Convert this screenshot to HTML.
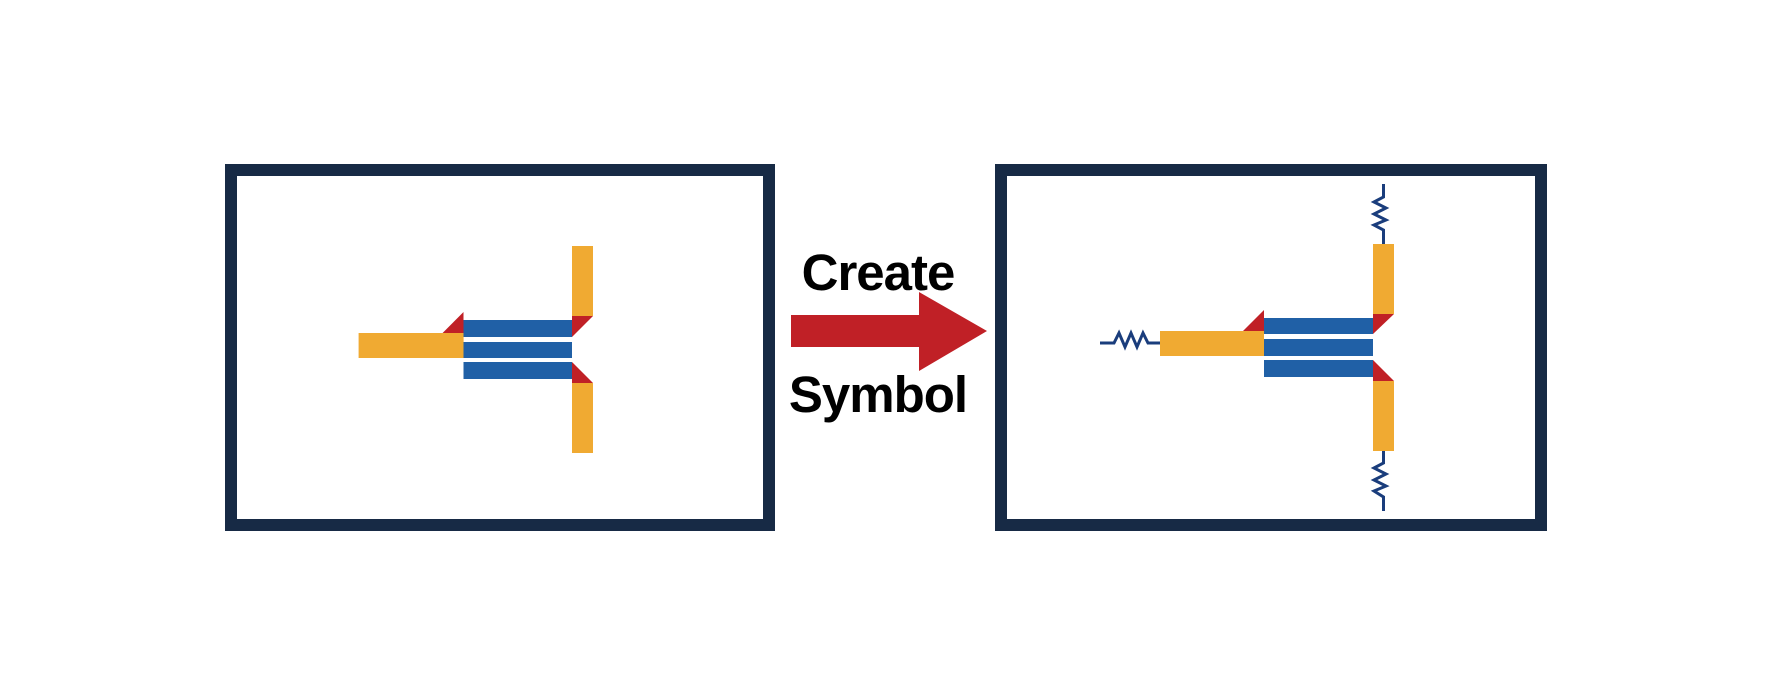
<!DOCTYPE html>
<html><head><style>
html,body{margin:0;padding:0;background:#fff;}
body{width:1780px;height:680px;position:relative;overflow:hidden;}
svg{position:absolute;left:0;top:0;}
</style></head><body>
<svg width="1780" height="680" viewBox="0 0 1780 680" xmlns="http://www.w3.org/2000/svg">
<!-- left box -->
<rect x="231" y="170" width="538" height="355" fill="none" stroke="#172a45" stroke-width="12"/>
<rect x="358.6" y="333" width="105" height="25" fill="#f0aa32"/>
<polygon points="442.6,333 463.5,312 463.5,333" fill="#c02026"/>
<rect x="463.5" y="320" width="108.5" height="17" fill="#2060a6"/>
<rect x="463.5" y="342" width="108.5" height="16" fill="#2060a6"/>
<rect x="463.5" y="362" width="108.5" height="17" fill="#2060a6"/>
<rect x="572" y="246" width="21" height="70" fill="#f0aa32"/>
<polygon points="572,316 593,316 572,337" fill="#c02026"/>
<polygon points="572,362 572,383 593,383" fill="#c02026"/>
<rect x="572" y="383" width="21" height="70" fill="#f0aa32"/>
<!-- arrow -->
<polygon points="791,315 919,315 919,292 987,331 919,371 919,347 791,347" fill="#c02026"/>
<text x="878" y="290" text-anchor="middle" font-family="Liberation Sans, sans-serif" font-weight="bold" font-size="51" letter-spacing="-1">Create</text>
<text x="878" y="412" text-anchor="middle" font-family="Liberation Sans, sans-serif" font-weight="bold" font-size="51" letter-spacing="-1">Symbol</text>
<!-- right box -->
<rect x="1001" y="170" width="540" height="355" fill="none" stroke="#172a45" stroke-width="12"/>
<polyline points="1100,343 1114,343 1119,333 1125,347 1131,333 1137,347 1143,333 1148,343 1160,343" fill="none" stroke="#1a3d7c" stroke-width="3"/>
<rect x="1160" y="331" width="104" height="25" fill="#f0aa32"/>
<polygon points="1243,331 1264,310 1264,331" fill="#c02026"/>
<rect x="1264" y="318" width="109" height="16" fill="#2060a6"/>
<rect x="1264" y="339" width="109" height="17" fill="#2060a6"/>
<rect x="1264" y="360" width="109" height="17" fill="#2060a6"/>
<rect x="1373" y="244" width="21" height="70" fill="#f0aa32"/>
<polygon points="1373,314 1394,314 1373,334" fill="#c02026"/>
<polygon points="1373,360 1373,381 1394,381" fill="#c02026"/>
<rect x="1373" y="381" width="21" height="70" fill="#f0aa32"/>
<polyline points="1383.5,184 1383.5,197 1374,202 1386,208 1374,214 1386,220 1374,225 1383.5,230 1383.5,244" fill="none" stroke="#1a3d7c" stroke-width="3"/>
<polyline points="1383.5,451 1383.5,463 1374,468 1386,474 1374,480 1386,486 1374,491 1383.5,497 1383.5,511" fill="none" stroke="#1a3d7c" stroke-width="3"/>
</svg>
</body></html>
